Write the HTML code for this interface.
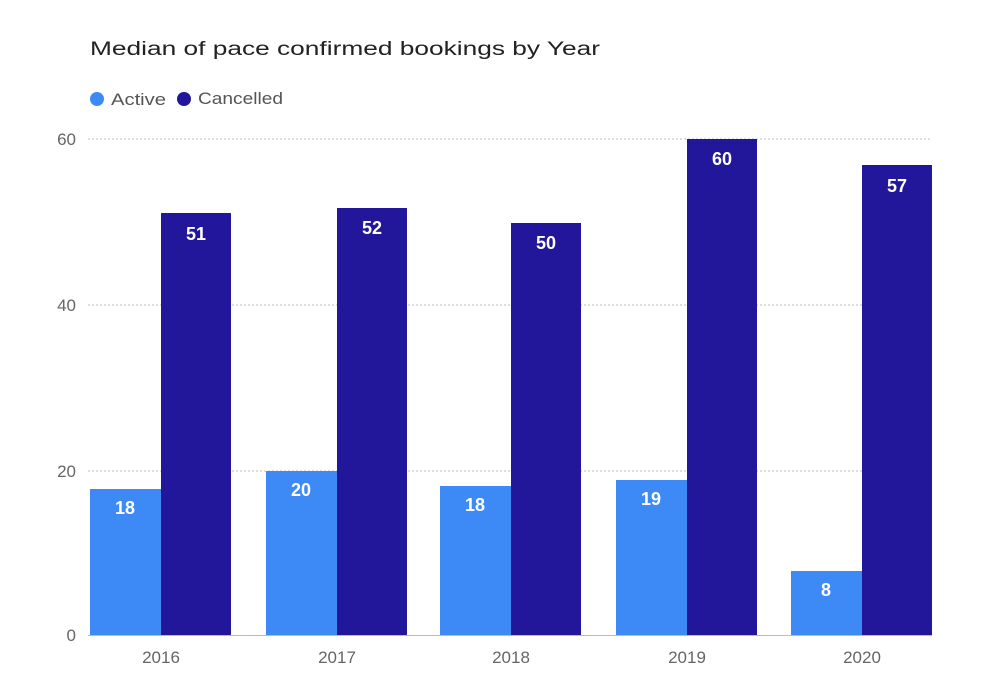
<!DOCTYPE html>
<html><head><meta charset="utf-8"><style>
html,body{margin:0;padding:0;background:#fff;}
svg{display:block;font-family:"Liberation Sans",sans-serif;}
</style></head><body>
<svg width="1004" height="684" viewBox="0 0 1004 684" xmlns="http://www.w3.org/2000/svg">
<rect width="1004" height="684" fill="#fff"/>
<text x="90" y="55" font-size="19" fill="#222" textLength="510" lengthAdjust="spacingAndGlyphs">Median of pace confirmed bookings by Year</text>
<circle cx="97" cy="99" r="7" fill="#3d8af7"/>
<text x="111" y="105" font-size="17" fill="#555" textLength="55" lengthAdjust="spacingAndGlyphs">Active</text>
<circle cx="184" cy="99" r="7" fill="#22169a"/>
<text x="198" y="104" font-size="17" fill="#555" textLength="85" lengthAdjust="spacingAndGlyphs">Cancelled</text>
<g stroke="#bbb" stroke-dasharray="2,2" stroke-width="1">
<line x1="88" y1="139" x2="932" y2="139"/>
<line x1="88" y1="305" x2="932" y2="305"/>
<line x1="88" y1="471" x2="932" y2="471"/>
</g>
<g font-size="17" fill="#666" text-anchor="end">
<text x="76" y="145">60</text>
<text x="76" y="311">40</text>
<text x="76" y="477">20</text>
<text x="76" y="641">0</text>
</g>
<g fill="#3d8af7">
<rect x="90" y="489" width="71" height="146"/>
<rect x="266" y="471" width="71" height="164"/>
<rect x="440" y="486" width="71" height="149"/>
<rect x="616" y="480" width="71" height="155"/>
<rect x="791" y="571" width="71" height="64"/>
</g>
<g fill="#22169a">
<rect x="161" y="213" width="70" height="422"/>
<rect x="337" y="208" width="70" height="427"/>
<rect x="511" y="223" width="70" height="412"/>
<rect x="687" y="139" width="70" height="496"/>
<rect x="862" y="165" width="70" height="470"/>
</g>
<line x1="88" y1="635.5" x2="932" y2="635.5" stroke="#bbb"/>
<g font-size="18" font-weight="bold" fill="#fff" text-anchor="middle">
<text x="125" y="514">18</text>
<text x="301" y="496">20</text>
<text x="475" y="511">18</text>
<text x="651" y="505">19</text>
<text x="826" y="596">8</text>
<text x="196" y="240">51</text>
<text x="372" y="234">52</text>
<text x="546" y="249">50</text>
<text x="722" y="165">60</text>
<text x="897" y="192">57</text>
</g>
<g font-size="17" fill="#666" text-anchor="middle">
<text x="161" y="663">2016</text>
<text x="337" y="663">2017</text>
<text x="511" y="663">2018</text>
<text x="687" y="663">2019</text>
<text x="862" y="663">2020</text>
</g>
</svg>
</body></html>
